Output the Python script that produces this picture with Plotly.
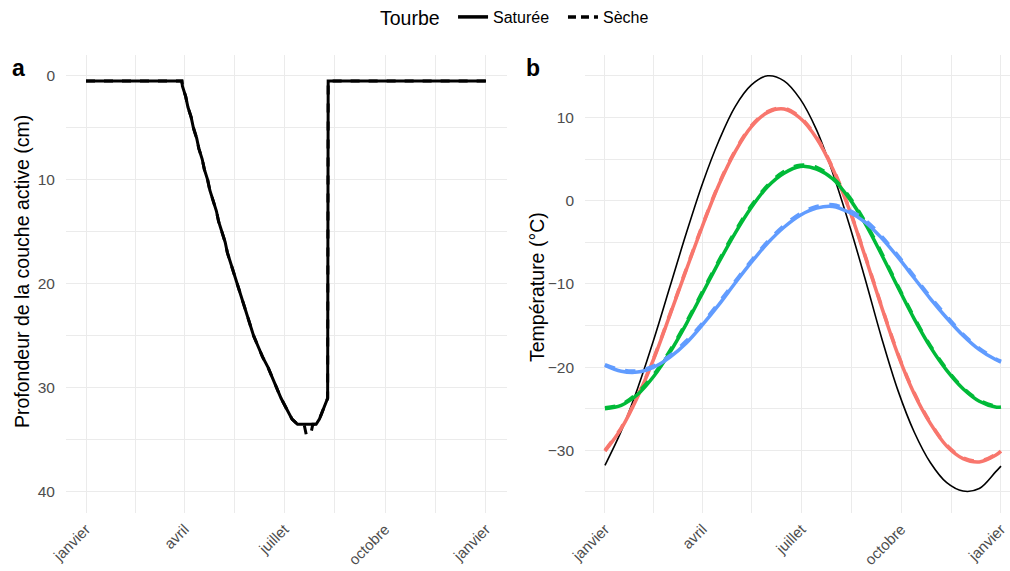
import plotly.graph_objects as go

# ---------------- data ----------------
# Panel a: active layer depth (cm) vs day of year
days_a_sat = [0, 87.5, 88, 91, 93, 96, 98, 101, 103, 106, 108, 111, 113, 116, 119, 121, 124, 127, 129, 132,
              135, 138, 141, 144, 147, 150, 153, 157, 161, 166, 170, 174, 178, 183, 188, 193, 210, 213,
              217, 220.5, 221, 365]
depth_sat = [0.5, 0.5, 1, 2, 3, 4, 5, 6, 7, 8, 9, 10, 11, 12, 13, 14, 15, 16, 17, 18,
             19, 20, 21, 22, 23, 24, 25, 26, 27, 28, 29, 30, 31, 32, 33, 33.5, 33.5, 33,
             32, 31, 0.5, 0.5]
days_a_sec = [0, 87.5, 88, 91, 93, 96, 98, 101, 103, 106, 108, 111, 113, 116, 119, 121, 124, 127, 129, 132,
              135, 138, 141, 144, 147, 150, 153, 157, 161, 166, 170, 174, 178, 183, 188, 193, 199, 201,
              205, 207, 210, 213, 217, 220.5, 221, 365]
depth_sec = [0.5, 0.5, 1, 2, 3, 4, 5, 6, 7, 8, 9, 10, 11, 12, 13, 14, 15, 16, 17, 18,
             19, 20, 21, 22, 23, 24, 25, 26, 27, 28, 29, 30, 31, 32, 33, 33.5, 33.5, 34.5,
             34.5, 33.5, 33.5, 33, 32, 31, 0.5, 0.5]

# Panel b: temperatures (°C) vs day of year
days_b = [0, 15, 30, 45, 60, 75, 90, 105, 120, 135, 150, 165, 180, 195, 210, 225, 240, 255,
          270, 285, 300, 315, 330, 345, 360, 365]
air = [-31.8, -27.7, -22.6, -16.7, -10.3, -3.9, 2.1, 7.2, 11.3, 13.9, 15.0, 14.4, 12.2, 8.5,
       3.3, -2.8, -9.5, -16.5, -22.8, -27.8, -31.5, -33.9, -34.9, -34.6, -32.6, -31.9]
red_sat = [-30.1, -27.4, -23.6, -19.0, -13.7, -8.3, -3.0, 1.9, 5.9, 8.9, 10.6, 11.0, 9.9, 7.5,
           3.8, -1.0, -6.8, -12.8, -18.5, -23.2, -26.8, -29.5, -31.0, -31.4, -30.6, -30.1]
red_sec = [-30.0, -27.3, -23.5, -18.9, -13.6, -8.2, -2.9, 2.0, 6.0, 9.0, 10.7, 11.1, 10.0, 7.6,
           3.9, -0.9, -6.7, -12.7, -18.4, -23.1, -26.7, -29.4, -30.9, -31.3, -30.5, -30.0]
green_sat = [-25.0, -24.6, -23.3, -21.1, -18.2, -14.8, -11.1, -7.4, -3.9, -0.8, 1.7, 3.3, 4.1, 3.8,
             2.6, 0.3, -2.8, -6.5, -10.4, -14.2, -17.6, -20.4, -22.6, -24.1, -24.8, -24.8]
green_sec = [-24.9, -24.5, -23.1, -20.9, -18.0, -14.6, -10.9, -7.2, -3.7, -0.6, 1.85, 3.5, 4.25, 4.0,
             2.75, 0.5, -2.6, -6.3, -10.25, -14.05, -17.45, -20.25, -22.5, -24.0, -24.7, -24.7]
blue_sat = [-19.8, -20.5, -20.6, -20.0, -18.8, -17.1, -14.9, -12.5, -9.9, -7.4, -5.1, -3.2, -1.75, -0.9,
            -0.7, -1.4, -2.6, -4.5, -6.8, -9.3, -11.8, -14.1, -16.2, -17.9, -19.1, -19.4]
blue_sec = [-19.7, -20.35, -20.45, -19.85, -18.6, -16.85, -14.7, -12.25, -9.7, -7.2, -4.9, -3.0, -1.55, -0.7,
            -0.5, -1.15, -2.35, -4.3, -6.6, -9.1, -11.6, -13.9, -16.05, -17.75, -19.0, -19.3]

tick_days = [0, 90, 181, 273, 365]
tick_labels = ["janvier", "avril", "juillet", "octobre", "janvier"]
minor_days = [45, 135.5, 227, 319]

W, H = 1010, 571
FONT = "Liberation Sans, Arial, sans-serif"
GRID = "#EBEBEB"
TICKC = "#4D4D4D"

fig = go.Figure()

# ---- panel a ----
fig.add_trace(go.Scatter(x=days_a_sec, y=depth_sec, mode="lines", line=dict(color="black", width=3, dash="dash"),
                         showlegend=False, xaxis="x", yaxis="y"))
fig.add_trace(go.Scatter(x=days_a_sat, y=depth_sat, mode="lines", line=dict(color="black", width=3),
                         showlegend=False, xaxis="x", yaxis="y"))

# ---- panel b ----
fig.add_trace(go.Scatter(x=days_b, y=air, mode="lines", line=dict(color="black", width=1.6, shape="spline"),
                         showlegend=False, xaxis="x2", yaxis="y2"))
for col, sat, sec in [("#F8766D", red_sat, red_sec), ("#00BA38", green_sat, green_sec), ("#619CFF", blue_sat, blue_sec)]:
    fig.add_trace(go.Scatter(x=days_b, y=sat, mode="lines", line=dict(color=col, width=3.5, shape="spline"),
                             showlegend=False, xaxis="x2", yaxis="y2"))
    fig.add_trace(go.Scatter(x=days_b, y=sec, mode="lines", line=dict(color=col, width=3.5, dash="dash", shape="spline"),
                             showlegend=False, xaxis="x2", yaxis="y2"))

# legend entries
fig.add_trace(go.Scatter(x=[None], y=[None], mode="lines", line=dict(color="black", width=3.5), name="Saturée\u00a0\u00a0",
                         xaxis="x2", yaxis="y2"))
fig.add_trace(go.Scatter(x=[None], y=[None], mode="lines", line=dict(color="black", width=3.5, dash="8px,5px"), name="Sèche",
                         xaxis="x2", yaxis="y2"))

def px_x(p):
    return p / W

def px_y(p):
    return 1 - p / H

xcommon = dict(tickmode="array", tickvals=tick_days, ticktext=tick_labels, tickangle=-45,
               showgrid=True, gridcolor=GRID, gridwidth=1.2, zeroline=False, showline=False,
               ticks="", tickfont=dict(family=FONT, size=15, color=TICKC), ticklabelstandoff=4,
               minor=dict(tickvals=minor_days, showgrid=True, gridcolor=GRID, gridwidth=0.9),
               automargin=False, fixedrange=True)
ycommon = dict(showgrid=True, gridcolor=GRID, gridwidth=1.2, zeroline=False, showline=False, ticks="",
               tickfont=dict(family=FONT, size=15.5, color=TICKC), ticklabelstandoff=10, automargin=False)

fig.update_layout(
    width=W, height=H,
    margin=dict(l=0, r=0, t=0, b=0),
    paper_bgcolor="white", plot_bgcolor="white",
    font=dict(family=FONT, color="black"),
    xaxis=dict(domain=[px_x(66), px_x(506.7)], range=[-18.25, 383.9], anchor="y", **xcommon),
    yaxis=dict(domain=[px_y(512.7), px_y(55)], range=[42, -2], anchor="x",
               tickvals=[0, 10, 20, 30, 40],
               minor=dict(tickvals=[5, 15, 25, 35], showgrid=True, gridcolor=GRID, gridwidth=0.9),
               **ycommon),
    xaxis2=dict(domain=[px_x(585), 1.0], range=[-18.4, 373.3], anchor="y2", **xcommon),
    yaxis2=dict(domain=[px_y(512.7), px_y(55)], range=[-37.5, 17.5], anchor="x2",
                tickvals=[-30, -20, -10, 0, 10],
                minor=dict(tickvals=[-35, -25, -15, -5, 5, 15], showgrid=True, gridcolor=GRID, gridwidth=0.9),
                **ycommon),
    legend=dict(orientation="h", x=516 / W, xanchor="center", y=px_y(18), yanchor="middle",
                title=dict(text="Tourbe\u00a0", font=dict(family=FONT, size=19.5, color="black")),
                font=dict(family=FONT, size=16, color="black"), itemwidth=30,
                bgcolor="rgba(0,0,0,0)"),
    annotations=[
        dict(text="<b>a</b>", x=px_x(18), y=px_y(68), xref="paper", yref="paper", showarrow=False,
             xanchor="center", yanchor="middle", font=dict(family=FONT, size=23, color="black")),
        dict(text="<b>b</b>", x=px_x(533), y=px_y(68), xref="paper", yref="paper", showarrow=False,
             xanchor="center", yanchor="middle", font=dict(family=FONT, size=23, color="black")),
        dict(text="Profondeur de la couche active (cm)", x=px_x(22), y=px_y(272), xref="paper", yref="paper",
             xanchor="center", yanchor="middle",
             showarrow=False, textangle=-90, font=dict(family=FONT, size=19.5, color="black")),
        dict(text="Température (°C)", x=px_x(537), y=px_y(287), xref="paper", yref="paper",
             xanchor="center", yanchor="middle",
             showarrow=False, textangle=-90, font=dict(family=FONT, size=19.5, color="black")),
    ],
)

fig.write_html("out.html")
